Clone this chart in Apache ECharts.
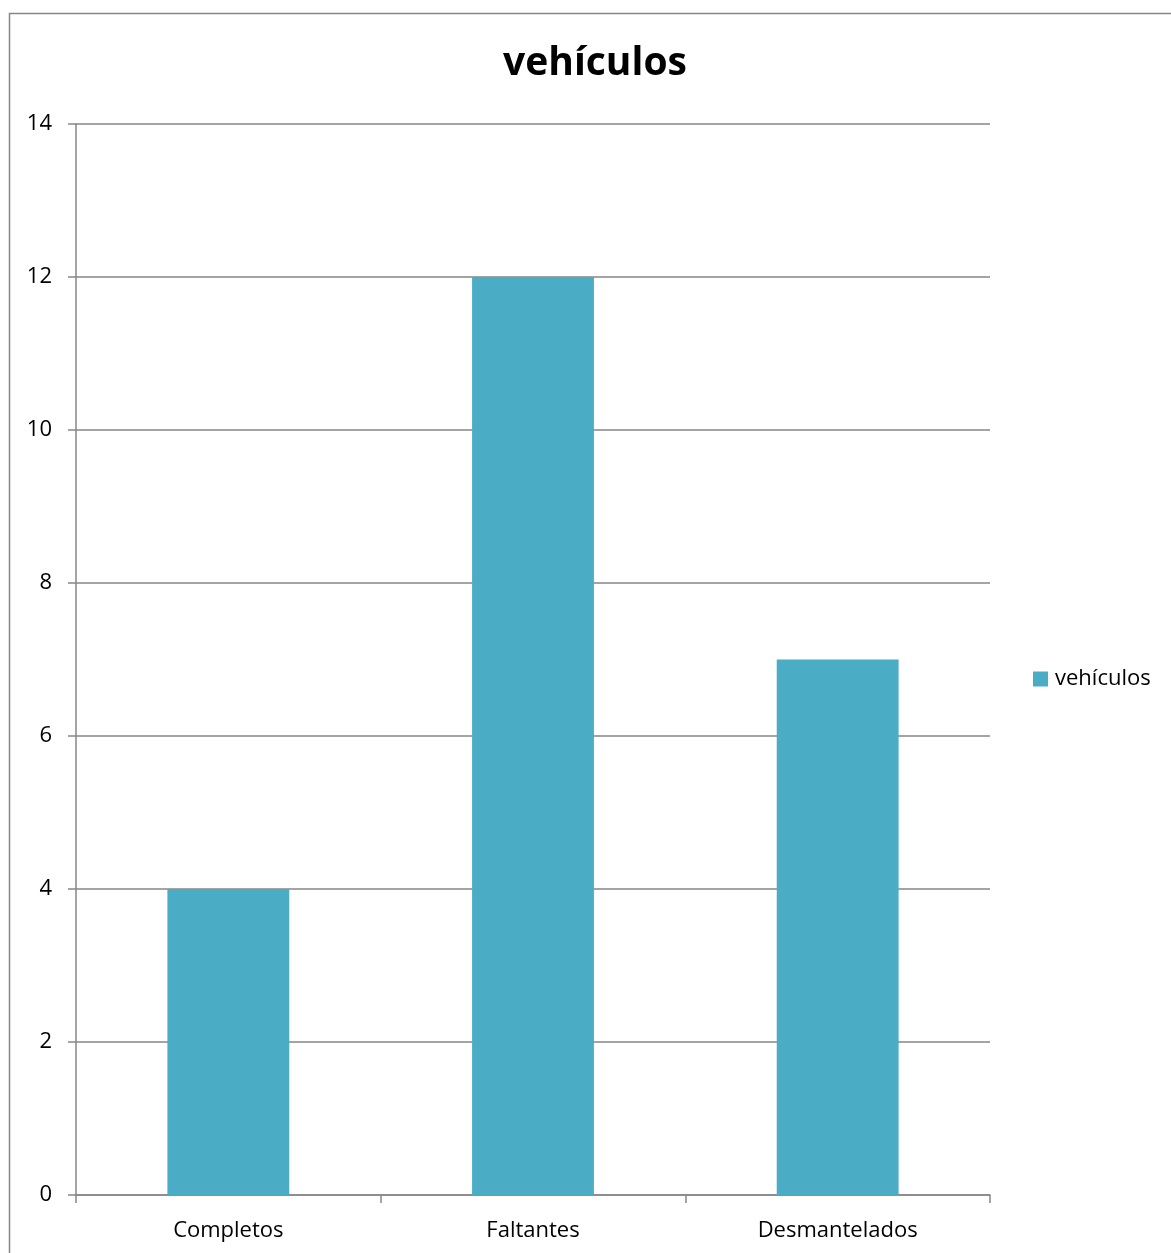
<!DOCTYPE html>
<html><head><meta charset="utf-8">
<script src="https://cdn.jsdelivr.net/npm/echarts@6/dist/echarts.min.js"></script>
<style>html,body{margin:0;padding:0;background:#fff}#c{width:1171px;height:1253px}</style>
</head><body><div id="c"></div>
<script>
const categories = ['Completos', 'Faltantes', 'Desmantelados'];
const seriesName = 'vehículos';
const values = [4, 12, 7];
const titleText = 'vehículos';

const font = '"Open Sans", "Noto Sans", sans-serif';
const chart = echarts.init(document.getElementById('c'));
chart.setOption({
  animation: false,
  backgroundColor: '#fff',
  graphic: [{
    type: 'rect', left: 7, top: 11, silent: true,
    shape: { width: 1300, height: 1400 },
    style: { fill: 'none', stroke: '#868686', lineWidth: 1.5 }
  }],
  title: {
    text: titleText, left: 595, top: 44, textAlign: 'center', padding: 0,
    textStyle: { fontFamily: font, fontWeight: 'bold', fontSize: 39, color: '#000' }
  },
  legend: {
    orient: 'vertical', left: 1033, top: 668, padding: 0,
    itemWidth: 15, itemHeight: 15, itemGap: 6,
    icon: 'rect',
    textStyle: { fontFamily: font, fontSize: 22, color: '#000', padding: [0, 0, 0, 2] }
  },
  grid: { left: 76, right: 181, top: 124, bottom: 58 },
  xAxis: {
    type: 'category', data: categories,
    axisLine: { lineStyle: { color: '#868686', width: 1.5 } },
    axisTick: { show: true, length: 8, lineStyle: { color: '#868686', width: 1.5 } },
    axisLabel: { fontFamily: font, fontSize: 22, color: '#000', margin: 25 }
  },
  yAxis: {
    type: 'value', min: 0, max: 14, interval: 2,
    axisLine: { show: true, lineStyle: { color: '#868686', width: 1.5 } },
    axisTick: { show: true, length: 8, inside: false, lineStyle: { color: '#868686', width: 1.5 } },
    axisLabel: { fontFamily: font, fontSize: 22, color: '#000', margin: 24 },
    splitLine: { show: true, lineStyle: { color: '#868686', width: 1.5 } }
  },
  series: [{
    name: seriesName, type: 'bar', data: values,
    barWidth: '40%',
    itemStyle: { color: '#4BACC6' }
  }]
});
</script></body></html>
